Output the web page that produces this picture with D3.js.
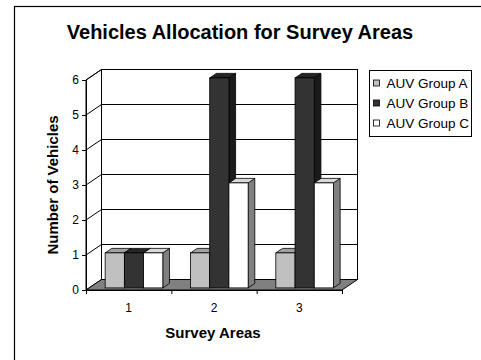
<!DOCTYPE html>
<html><head><meta charset="utf-8">
<script src="https://cdn.jsdelivr.net/npm/d3@7"></script>
<style>body{margin:0;background:#fff}svg{display:block}text{font-family:"Liberation Sans",Arial,sans-serif}</style>
</head><body><svg id="c" width="481" height="360"></svg>
<script>
const categories = ["1","2","3"];
const seriesNames = ["AUV Group A","AUV Group B","AUV Group C"];
const groupA = [1,1,1];
const groupB = [1,6,6];
const groupC = [1,3,3];
const yTicks = [0,1,2,3,4,5,6];
const titleText = "Vehicles Allocation for Survey Areas";
const xTitle = "Survey Areas";
const yTitle = "Number of Vehicles";

const FONT = "'Liberation Sans', Arial, sans-serif";
const series = [groupA, groupB, groupC];
const faceCol = ["#c0c0c0","#333333","#ffffff"];
const topCol = ["#a0a0a0","#262626","#d8d8d8"];
const sideCol = ["#707070","#1a1a1a","#808080"];

const svg = d3.select("#c");
svg.append("rect").attr("x",14.5).attr("y",6.5).attr("width",480).attr("height",360)
  .attr("fill","#fff").attr("stroke","#000").attr("stroke-width",1.2);

const DX = 15.5, DY = -10.5;
const x0 = d3.scaleBand().domain(categories).range([86,342]).padding(0);
const x1 = d3.scaleBand().domain(seriesNames).range([0,x0.bandwidth()]).paddingInner(0).paddingOuter(0.72).align(0.58);
const y = d3.scaleLinear().domain([0,6]).range([290,80]);

const yTop = y(6), yBot = y(0), L = x0.range()[0], R = x0.range()[1];
svg.append("polygon").attr("points",[[L,yTop],[L+DX,yTop+DY],[L+DX,yBot+DY],[L,yBot]].join(" "))
  .attr("fill","#fff").attr("stroke","#000");
svg.append("rect").attr("x",L+DX).attr("y",yTop+DY).attr("width",R-L).attr("height",yBot-yTop)
  .attr("fill","#fff").attr("stroke","#000");
yTicks.forEach(t=>{
  if(t===0) return;
  const yy = y(t);
  svg.append("polyline").attr("points",[[L,yy],[L+DX,yy+DY],[R+DX,yy+DY]].join(" "))
    .attr("fill","none").attr("stroke","#000").attr("stroke-width",1);
});
svg.append("polygon").attr("points",[[L,yBot],[L+DX,yBot+DY],[R+DX,yBot+DY],[R,yBot]].join(" "))
  .attr("fill","#808080").attr("stroke","#000");

const t0 = 0.2, t1 = 0.63;
const g = svg.append("g");
categories.forEach((c,ci)=>{
  series.forEach((vals,si)=>{
    const v = vals[ci];
    const bx = x0(c)+x1(seriesNames[si]) + t0*DX;
    const w = x1.bandwidth();
    const yt = y(v) + t0*DY, yb = y(0) + t0*DY;
    const ddx = (t1-t0)*DX, ddy = (t1-t0)*DY;
    g.append("polygon").attr("points",[[bx+w,yb],[bx+w,yt],[bx+w+ddx,yt+ddy],[bx+w+ddx,yb+ddy]].join(" "))
      .attr("fill",sideCol[si]).attr("stroke","#000").attr("stroke-width",0.8);
    g.append("polygon").attr("points",[[bx,yt],[bx+w,yt],[bx+w+ddx,yt+ddy],[bx+ddx,yt+ddy]].join(" "))
      .attr("fill",topCol[si]).attr("stroke","#000").attr("stroke-width",0.8);
    g.append("rect").attr("x",bx).attr("y",yt).attr("width",w).attr("height",yb-yt)
      .attr("fill",faceCol[si]).attr("stroke","#000").attr("stroke-width",0.8);
  });
});

const yAxis = d3.axisLeft(y).tickValues(yTicks).tickSize(4).tickPadding(3).tickFormat(d3.format("d"));
const ya = svg.append("g").attr("transform",`translate(${L},0)`).call(yAxis);
ya.select(".domain").attr("stroke","#000");
ya.selectAll("text").attr("font-size",12).attr("fill","#000").attr("font-family",FONT);
const xTickScale = d3.scaleLinear().domain([0,categories.length]).range([L,R]);
const xa = svg.append("g").attr("transform",`translate(0,${yBot})`)
  .call(d3.axisBottom(xTickScale).tickValues(d3.range(categories.length+1)).tickSize(4).tickFormat(""));
xa.select(".domain").attr("stroke","#000");
svg.append("g").selectAll("text").data(categories).join("text")
  .attr("x",d=>x0(d)+x0.bandwidth()/2).attr("y",312).attr("text-anchor","middle")
  .attr("font-size",12).attr("font-family",FONT).text(d=>d);

svg.append("text").attr("x",240).attr("y",39).attr("text-anchor","middle").attr("font-family",FONT)
  .attr("font-size",20).attr("font-weight","bold").text(titleText);
svg.append("text").attr("x",213).attr("y",338).attr("text-anchor","middle").attr("font-family",FONT)
  .attr("font-size",15).attr("font-weight","bold").text(xTitle);
svg.append("text").attr("transform","translate(58,185) rotate(-90)").attr("text-anchor","middle").attr("font-family",FONT)
  .attr("font-size",15).attr("font-weight","bold").text(yTitle);

const lg = svg.append("g");
lg.append("rect").attr("x",369.5).attr("y",70.5).attr("width",102).attr("height",66)
  .attr("fill","#fff").attr("stroke","#000");
seriesNames.forEach((s,i)=>{
  const cy = 83.5 + i*20;
  lg.append("rect").attr("x",373.5).attr("y",cy-3.5).attr("width",6).attr("height",6)
    .attr("fill",faceCol[i]).attr("stroke","#000").attr("stroke-width",0.8);
  lg.append("text").attr("x",386.5).attr("y",cy+4.5).attr("font-size",13.5).attr("font-family",FONT).text(s);
});
</script></body></html>
